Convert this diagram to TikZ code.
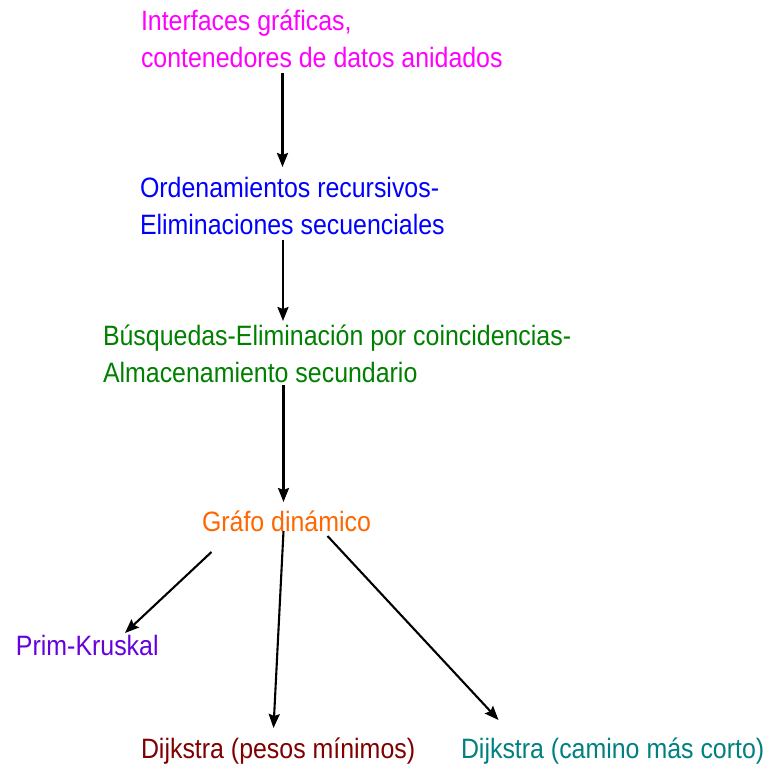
\documentclass[tikz,border=0pt]{standalone}
\usepackage{fontspec}
\setmainfont{Liberation Sans}[FakeStretch=0.89]
\usetikzlibrary{arrows.meta}
\definecolor{cMag}{RGB}{255,0,255}
\definecolor{cBlue}{RGB}{0,0,255}
\definecolor{cGreen}{RGB}{0,128,0}
\definecolor{cOrange}{RGB}{255,102,0}
\definecolor{cViolet}{RGB}{102,0,220}
\definecolor{cDred}{RGB}{128,0,0}
\definecolor{cTeal}{RGB}{0,128,128}
\tikzset{
  lbl/.style={anchor=base west, inner sep=0pt, outer sep=0pt, align=left,
    font=\fontsize{28}{37}\selectfont},
  conn/.style={line width=2.1pt, draw=black,
    -{Stealth[length=14pt,width=11pt,inset=2pt]}}
}
\begin{document}
\begin{tikzpicture}[x=1pt,y=-1pt]
\useasboundingbox (0,0) rectangle (769,767);
% anchor base = baseline of the last line
\node[lbl, text=cMag] (n1) at (141,68) {Interfaces gráficas,\\contenedores de datos anidados};
\node[lbl, text=cBlue] (n2) at (140,235) {Ordenamientos recursivos-\\Eliminaciones secuenciales};
\node[lbl, text=cGreen] (n3) at (103,383) {Búsquedas-Eliminación por coincidencias-\\Almacenamiento secundario};
\node[lbl, text=cOrange] (n4) at (202,531) {Gráfo dinámico};
\node[lbl, text=cViolet] (n5) at (16,655) {Prim-Kruskal};
\node[lbl, text=cDred] (n6) at (141,758) {Dijkstra (pesos mínimos)};
\node[lbl, text=cTeal] (n7) at (461,758) {Dijkstra (camino más corto)};
\coordinate (a1s) at (282.5,73);
\coordinate (a1e) at (282.5,167);
\coordinate (a2s) at (283,240);
\coordinate (a2e) at (283,321);
\coordinate (a3s) at (283.5,385);
\coordinate (a3e) at (283.5,502);
\coordinate (a4s) at (211.5,552);
\coordinate (a4e) at (125,633);
\coordinate (a5s) at (283.5,531);
\coordinate (a5e) at (273.5,728);
\coordinate (a6s) at (327.5,536);
\coordinate (a6e) at (498.5,720);
\draw[conn] (a1s) -- (a1e);
\draw[conn] (a2s) -- (a2e);
\draw[conn] (a3s) -- (a3e);
\draw[conn] (a4s) -- (a4e);
\draw[conn] (a5s) -- (a5e);
\draw[conn] (a6s) -- (a6e);
\end{tikzpicture}
\end{document}
